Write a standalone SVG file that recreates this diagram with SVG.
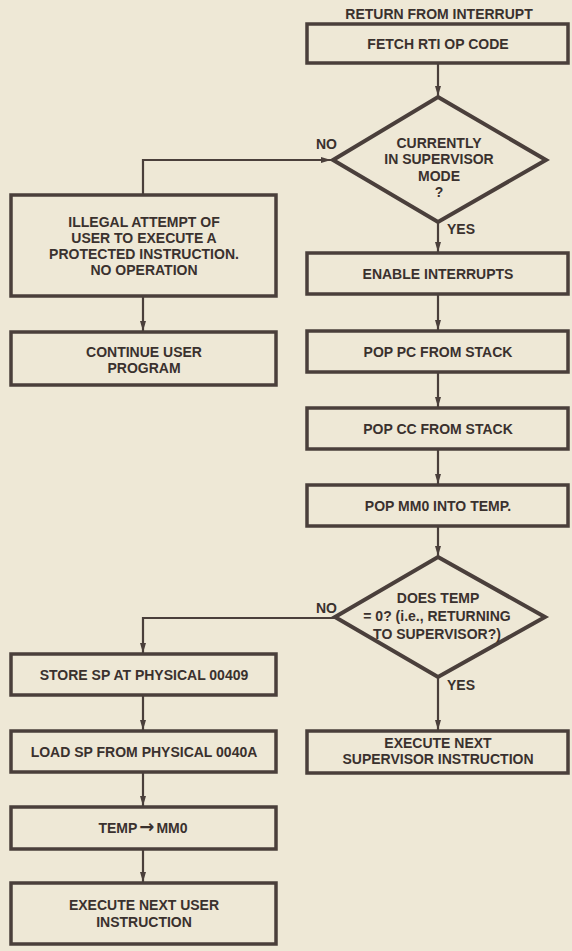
<svg xmlns="http://www.w3.org/2000/svg" width="572" height="951" viewBox="0 0 572 951">
<defs>
<style>
.box{fill:none;stroke:#4a3f3b;stroke-width:3.5}
.dia{fill:none;stroke:#4a3f3b;stroke-width:4;stroke-linejoin:miter}
.c{fill:none;stroke:#4a3f3b;stroke-width:2.2}
.t{font-family:"Liberation Sans",Arial,Helvetica,sans-serif;font-weight:bold;font-size:14px;fill:#3a312e;text-anchor:middle}
.l{text-anchor:start}
</style>
<marker id="ah" viewBox="0 0 10 6" refX="10" refY="3" markerWidth="10" markerHeight="6" markerUnits="userSpaceOnUse" orient="auto">
<path d="M0,0 L10,3 L0,6 z" fill="#4a3f3b"/>
</marker>
</defs>
<rect width="572" height="951" fill="#eee8d6"/>

<g id="title"><text class="t" x="439" y="19">RETURN FROM INTERRUPT</text></g>

<g id="fetch"><rect class="box" x="307" y="24" width="261" height="39"/><text class="t" x="438" y="49">FETCH RTI OP CODE</text></g>

<g id="supervisor-q"><polygon class="dia" points="438,97 546,160 438,222 333,160"/>
<text class="t" x="439" y="148">CURRENTLY</text>
<text class="t" x="439" y="164">IN SUPERVISOR</text>
<text class="t" x="439" y="181">MODE</text>
<text class="t" x="439" y="197">?</text></g>

<g id="illegal"><rect class="box" x="11" y="195" width="265" height="101"/>
<text class="t" x="144" y="227">ILLEGAL ATTEMPT OF</text>
<text class="t" x="144" y="243">USER TO EXECUTE A</text>
<text class="t" x="144" y="259">PROTECTED INSTRUCTION.</text>
<text class="t" x="144" y="275">NO OPERATION</text></g>

<g id="continue"><rect class="box" x="11" y="332" width="265" height="53"/>
<text class="t" x="144" y="357">CONTINUE USER</text>
<text class="t" x="144" y="373">PROGRAM</text></g>

<g id="enable"><rect class="box" x="307" y="253" width="261" height="41"/><text class="t" x="438" y="279">ENABLE INTERRUPTS</text></g>
<g id="poppc"><rect class="box" x="307" y="331" width="261" height="41"/><text class="t" x="438" y="357">POP PC FROM STACK</text></g>
<g id="popcc"><rect class="box" x="307" y="408" width="261" height="41"/><text class="t" x="438" y="434">POP CC FROM STACK</text></g>
<g id="popmm0"><rect class="box" x="307" y="485" width="261" height="41"/><text class="t" x="438" y="511">POP MM0 INTO TEMP.</text></g>

<g id="temp-q"><polygon class="dia" points="438,557 545,617 438,677 335,617"/>
<text class="t" x="438" y="603">DOES TEMP</text>
<text class="t" x="437" y="621">= 0? (i.e., RETURNING</text>
<text class="t" x="437" y="639">TO SUPERVISOR?)</text></g>

<g id="exec-sup"><rect class="box" x="307" y="731" width="261" height="42"/>
<text class="t" x="438" y="748">EXECUTE NEXT</text>
<text class="t" x="438" y="764">SUPERVISOR INSTRUCTION</text></g>

<g id="store"><rect class="box" x="11" y="654" width="265" height="41"/><text class="t" x="144" y="680">STORE SP AT PHYSICAL 00409</text></g>
<g id="load"><rect class="box" x="11" y="731" width="265" height="41"/><text class="t" x="144" y="757">LOAD SP FROM PHYSICAL 0040A</text></g>
<g id="tempmm0"><rect class="box" x="11" y="807" width="265" height="42"/><text class="t" x="143" y="833">TEMP<tspan font-family="'DejaVu Sans',sans-serif" font-size="18" dx="2">→</tspan><tspan dx="2">MM0</tspan></text></g>
<g id="exec-user"><rect class="box" x="11" y="883" width="265" height="61"/>
<text class="t" x="144" y="910">EXECUTE NEXT USER</text>
<text class="t" x="144" y="927">INSTRUCTION</text></g>

<g id="connectors">
<line class="c" x1="438" y1="63" x2="438" y2="96" marker-end="url(#ah)"/>
<polyline class="c" points="143,195 143,160 331,160" marker-end="url(#ah)"/>
<line class="c" x1="438" y1="222" x2="438" y2="252" marker-end="url(#ah)"/>
<line class="c" x1="438" y1="294" x2="438" y2="330" marker-end="url(#ah)"/>
<line class="c" x1="438" y1="372" x2="438" y2="407" marker-end="url(#ah)"/>
<line class="c" x1="438" y1="449" x2="438" y2="484" marker-end="url(#ah)"/>
<line class="c" x1="438" y1="526" x2="438" y2="556" marker-end="url(#ah)"/>
<line class="c" x1="438" y1="677" x2="438" y2="730" marker-end="url(#ah)"/>
<polyline class="c" points="335,618 143,618 143,653" marker-end="url(#ah)"/>
<line class="c" x1="143" y1="296" x2="143" y2="331" marker-end="url(#ah)"/>
<line class="c" x1="143" y1="695" x2="143" y2="730" marker-end="url(#ah)"/>
<line class="c" x1="143" y1="772" x2="143" y2="806" marker-end="url(#ah)"/>
<line class="c" x1="143" y1="849" x2="143" y2="882" marker-end="url(#ah)"/>
<text class="t l" x="316" y="149">NO</text>
<text class="t l" x="447" y="234">YES</text>
<text class="t l" x="316" y="613">NO</text>
<text class="t l" x="447" y="690">YES</text>
</g>
</svg>
